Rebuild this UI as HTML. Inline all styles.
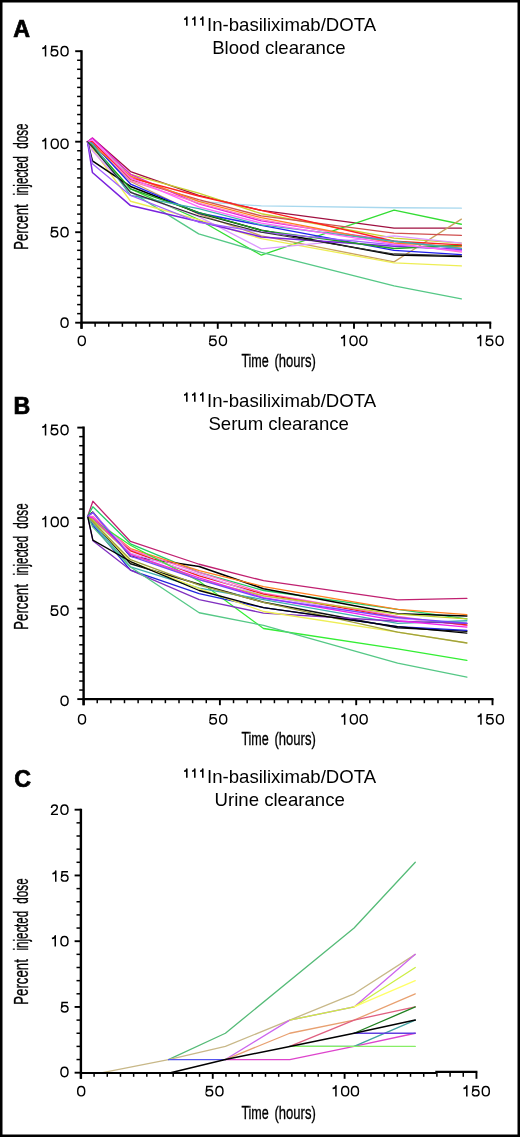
<!DOCTYPE html>
<html><head><meta charset="utf-8"><title>Clearance</title>
<style>html,body{margin:0;padding:0;background:#fff;}body{width:520px;height:1137px;position:relative;overflow:hidden;font-family:"Liberation Sans", sans-serif;}</style>
</head><body>
<svg width="520" height="1137" viewBox="0 0 520 1137" style="position:absolute;left:0;top:0;will-change:transform" font-family='"Liberation Sans", sans-serif'>
<rect x="0" y="0" width="520" height="1137" fill="#fff"/>
<polyline points="87.5,141.7 92.4,138.08 130.55,171.56 198.68,195.46 261.35,210.48 394.06,228.04 461.37,228.22" fill="none" stroke="#a01040" stroke-width="1.3" stroke-linejoin="round" stroke-linecap="round"/>
<polyline points="87.5,141.7 92.4,141.7 130.55,174.28 198.68,193.1 261.35,213.74 394.06,238.17 461.37,243.06" fill="none" stroke="#c8d030" stroke-width="1.3" stroke-linejoin="round" stroke-linecap="round"/>
<polyline points="87.5,141.7 92.4,141.7 130.55,176.09 198.68,201.43 261.35,205.95 394.06,207.76 461.37,208.13" fill="none" stroke="#a8d8ee" stroke-width="1.3" stroke-linejoin="round" stroke-linecap="round"/>
<polyline points="87.5,141.7 92.4,145.32 130.55,188.94 198.68,219.53 261.35,255.19 394.06,210.12 461.37,224.24" fill="none" stroke="#33dd33" stroke-width="1.3" stroke-linejoin="round" stroke-linecap="round"/>
<polyline points="87.5,141.7 92.4,147.13 130.55,191.66 198.68,233.83 261.35,252.29 394.06,285.96 461.37,298.81" fill="none" stroke="#55c886" stroke-width="1.3" stroke-linejoin="round" stroke-linecap="round"/>
<polyline points="87.5,141.7 92.4,143.51 130.55,181.52 198.68,214.1 261.35,235.82 394.06,261.88 461.37,219.17" fill="none" stroke="#c8a060" stroke-width="1.3" stroke-linejoin="round" stroke-linecap="round"/>
<polyline points="87.5,141.7 92.4,148.94 130.55,201.25 198.68,219.53 261.35,238.72 394.06,262.79 461.37,265.87" fill="none" stroke="#eeee55" stroke-width="1.3" stroke-linejoin="round" stroke-linecap="round"/>
<polyline points="87.5,141.7 92.4,141.7 130.55,179.71 198.68,199.62 261.35,215.91 394.06,233.1 461.37,235.46" fill="none" stroke="#d05050" stroke-width="1.3" stroke-linejoin="round" stroke-linecap="round"/>
<polyline points="87.5,141.7 92.4,150.75 130.55,192.38 198.68,216.63 261.35,248.85 394.06,235.82 461.37,243.06" fill="none" stroke="#dd99ff" stroke-width="1.3" stroke-linejoin="round" stroke-linecap="round"/>
<polyline points="87.5,141.7 92.4,160.89 130.55,186.41 198.68,213.01 261.35,230.21 394.06,255.01 461.37,256.45" fill="none" stroke="#000000" stroke-width="1.6" stroke-linejoin="round" stroke-linecap="round"/>
<polyline points="87.5,141.7 92.4,142.79 130.55,184.05 198.68,213.01 261.35,225.32 394.06,250.3 461.37,254.64" fill="none" stroke="#2020ee" stroke-width="1.3" stroke-linejoin="round" stroke-linecap="round"/>
<polyline points="87.5,141.7 92.4,172.47 130.55,205.59 198.68,221.52 261.35,236.91 394.06,246.14 461.37,249.58" fill="none" stroke="#7a22dd" stroke-width="1.5" stroke-linejoin="round" stroke-linecap="round"/>
<polyline points="87.5,141.7 92.4,138.08 130.55,174.28 198.68,203.78 261.35,220.98 394.06,241.25 461.37,248.49" fill="none" stroke="#e020e0" stroke-width="1.3" stroke-linejoin="round" stroke-linecap="round"/>
<polyline points="87.5,141.7 92.4,141.7 130.55,180.98 198.68,203.24 261.35,219.53 394.06,243.06 461.37,252.11" fill="none" stroke="#ff80c0" stroke-width="1.3" stroke-linejoin="round" stroke-linecap="round"/>
<polyline points="87.5,141.7 92.4,144.96 130.55,176.09 198.68,201.43 261.35,217.72 394.06,243.06 461.37,246.68" fill="none" stroke="#ff8020" stroke-width="1.3" stroke-linejoin="round" stroke-linecap="round"/>
<polyline points="87.5,141.7 92.4,146.04 130.55,188.94 198.68,212.29 261.35,230.39 394.06,248.49 461.37,245.41" fill="none" stroke="#20a020" stroke-width="1.3" stroke-linejoin="round" stroke-linecap="round"/>
<polyline points="87.5,141.7 92.4,141.7 130.55,177.9 198.68,196 261.35,210.48 394.06,241.25 461.37,244.87" fill="none" stroke="#ff2020" stroke-width="1.3" stroke-linejoin="round" stroke-linecap="round"/>
<polyline points="87.5,141.7 92.4,143.51 130.55,195.46 198.68,208.67 261.35,224.96 394.06,241.25 461.37,248.49" fill="none" stroke="#40b0b0" stroke-width="1.3" stroke-linejoin="round" stroke-linecap="round"/>
<polyline points="87.5,141.7 92.4,163.78 130.55,195.46 198.68,222.25 261.35,232.2 394.06,244.87 461.37,250.3" fill="none" stroke="#a060ff" stroke-width="1.3" stroke-linejoin="round" stroke-linecap="round"/>
<polyline points="87.5,141.7 92.4,139.89 130.55,177.9 198.68,206.86 261.35,223.15 394.06,244.15 461.37,251.2" fill="none" stroke="#ff66ff" stroke-width="1.3" stroke-linejoin="round" stroke-linecap="round"/>
<polyline points="87.5,141.7 92.4,147.13 130.55,192.38 198.68,215.91 261.35,232.2 394.06,253.92 461.37,255.73" fill="none" stroke="#303030" stroke-width="1.1" stroke-linejoin="round" stroke-linecap="round"/>
<polyline points="87.69,516.29 92.87,501.27 130.49,541.45 199.18,564.25 263.52,580.73 397.64,599.91 466.88,598.46" fill="none" stroke="#c02070" stroke-width="1.3" stroke-linejoin="round" stroke-linecap="round"/>
<polyline points="87.69,516.29 92.87,506.7 130.49,543.8 199.18,572.4 263.52,590.5 397.64,609.32 466.88,618.92" fill="none" stroke="#22cc66" stroke-width="1.3" stroke-linejoin="round" stroke-linecap="round"/>
<polyline points="87.69,516.29 92.87,512.13 130.49,556.29 199.18,566.43 263.52,588.69 397.64,613.67 466.88,616.02" fill="none" stroke="#000000" stroke-width="1.5" stroke-linejoin="round" stroke-linecap="round"/>
<polyline points="87.69,516.29 92.87,518.1 130.49,548.51 199.18,570.59 263.52,586.52 397.64,609.32 466.88,614.57" fill="none" stroke="#ff8020" stroke-width="1.3" stroke-linejoin="round" stroke-linecap="round"/>
<polyline points="87.69,516.29 92.87,516.29 130.49,549.77 199.18,572.4 263.52,593.03 397.64,616.38 466.88,625.61" fill="none" stroke="#ff66cc" stroke-width="1.3" stroke-linejoin="round" stroke-linecap="round"/>
<polyline points="87.69,516.29 92.87,519.91 130.49,550.86 199.18,575.84 263.52,594.12 397.64,617.65 466.88,624.89" fill="none" stroke="#ee2020" stroke-width="1.3" stroke-linejoin="round" stroke-linecap="round"/>
<polyline points="87.69,516.29 92.87,512.67 130.49,553.03 199.18,574.21 263.52,595.93 397.64,618.56 466.88,623.44" fill="none" stroke="#dd99ff" stroke-width="1.3" stroke-linejoin="round" stroke-linecap="round"/>
<polyline points="87.69,516.29 92.87,519.91 130.49,545.25 199.18,581.27 263.52,628.51 397.64,648.96 466.88,660.37" fill="none" stroke="#33ee33" stroke-width="1.3" stroke-linejoin="round" stroke-linecap="round"/>
<polyline points="87.69,516.29 92.87,521.72 130.49,563.71 199.18,584.16 263.52,602.26 397.64,627.79 466.88,631.23" fill="none" stroke="#111111" stroke-width="1.5" stroke-linejoin="round" stroke-linecap="round"/>
<polyline points="87.69,516.29 92.87,523.53 130.49,566.97 199.18,588.15 263.52,599.55 397.64,623.44 466.88,620.73" fill="none" stroke="#40b0b0" stroke-width="1.3" stroke-linejoin="round" stroke-linecap="round"/>
<polyline points="87.69,516.29 92.87,525.34 130.49,570.05 199.18,593.58 263.52,607.7 397.64,626.7 466.88,630.32" fill="none" stroke="#2222dd" stroke-width="1.3" stroke-linejoin="round" stroke-linecap="round"/>
<polyline points="87.69,516.29 92.87,540.73 130.49,570.05 199.18,599.55 263.52,613.12 397.64,621.27 466.88,623.44" fill="none" stroke="#8030c0" stroke-width="1.3" stroke-linejoin="round" stroke-linecap="round"/>
<polyline points="87.69,516.29 92.87,527.15 130.49,566.97 199.18,612.76 263.52,625.43 397.64,663.08 466.88,677.02" fill="none" stroke="#55c886" stroke-width="1.3" stroke-linejoin="round" stroke-linecap="round"/>
<polyline points="87.69,516.29 92.87,521.72 130.49,561.54 199.18,588.69 263.52,611.5 397.64,632.13 466.88,642.81" fill="none" stroke="#eeee55" stroke-width="1.3" stroke-linejoin="round" stroke-linecap="round"/>
<polyline points="87.69,516.29 92.87,519.91 130.49,554.3 199.18,579.64 263.52,595.93 397.64,614.03 466.88,618.92" fill="none" stroke="#c0d030" stroke-width="1.3" stroke-linejoin="round" stroke-linecap="round"/>
<polyline points="87.69,516.29 92.87,518.1 130.49,554.3 199.18,577.83 263.52,597.74 397.64,620.73 466.88,627.06" fill="none" stroke="#ee22ee" stroke-width="1.3" stroke-linejoin="round" stroke-linecap="round"/>
<polyline points="87.69,516.29 92.87,521.72 130.49,559.73 199.18,585.07 263.52,602.26 397.64,632.13 466.88,642.99" fill="none" stroke="#a0a040" stroke-width="1.3" stroke-linejoin="round" stroke-linecap="round"/>
<polyline points="87.69,516.29 92.87,540.18 130.49,561.54 199.18,590.5 263.52,607.7 397.64,626.7 466.88,633.04" fill="none" stroke="#000000" stroke-width="1.3" stroke-linejoin="round" stroke-linecap="round"/>
<polyline points="87.69,516.29 92.87,512.67 130.49,556.11 199.18,579.64 263.52,598.46 397.64,617.65 466.88,623.08" fill="none" stroke="#7744ff" stroke-width="1.3" stroke-linejoin="round" stroke-linecap="round"/>
<polyline points="168.45,1059.55 225.41,1033.25 354.09,928.05 415.27,862.3" fill="none" stroke="#55bb77" stroke-width="1.3" stroke-linejoin="round" stroke-linecap="round"/>
<polyline points="102.52,1072.7 168.45,1059.55 225.41,1046.4 289.75,1020.1 354.09,993.8 415.27,954.35" fill="none" stroke="#c8b888" stroke-width="1.3" stroke-linejoin="round" stroke-linecap="round"/>
<polyline points="225.41,1059.55 289.75,1020.1 354.09,1006.95 415.27,954.35" fill="none" stroke="#cc66ee" stroke-width="1.3" stroke-linejoin="round" stroke-linecap="round"/>
<polyline points="289.75,1020.1 354.09,1006.95 415.27,967.5" fill="none" stroke="#ccee44" stroke-width="1.3" stroke-linejoin="round" stroke-linecap="round"/>
<polyline points="354.09,1006.95 415.27,980.65" fill="none" stroke="#ffff66" stroke-width="1.3" stroke-linejoin="round" stroke-linecap="round"/>
<polyline points="225.41,1059.55 289.75,1033.25 354.09,1020.1 415.27,993.8" fill="none" stroke="#e8a070" stroke-width="1.3" stroke-linejoin="round" stroke-linecap="round"/>
<polyline points="168.45,1059.55 225.41,1059.55" fill="none" stroke="#5555ee" stroke-width="1.3" stroke-linejoin="round" stroke-linecap="round"/>
<polyline points="225.41,1059.55 289.75,1059.55 354.09,1046.4 415.27,1033.25" fill="none" stroke="#dd44cc" stroke-width="1.3" stroke-linejoin="round" stroke-linecap="round"/>
<polyline points="289.75,1046.4 354.09,1020.1 415.27,1006.95" fill="none" stroke="#e06080" stroke-width="1.3" stroke-linejoin="round" stroke-linecap="round"/>
<polyline points="354.09,1033.25 415.27,1006.95" fill="none" stroke="#208020" stroke-width="1.3" stroke-linejoin="round" stroke-linecap="round"/>
<polyline points="289.75,1046.4 354.09,1046.4 415.27,1020.1" fill="none" stroke="#40a0a0" stroke-width="1.3" stroke-linejoin="round" stroke-linecap="round"/>
<polyline points="289.75,1046.4 354.09,1046.4 415.27,1046.4" fill="none" stroke="#88ee66" stroke-width="1.3" stroke-linejoin="round" stroke-linecap="round"/>
<polyline points="354.09,1033.25 415.27,1033.25" fill="none" stroke="#6040e0" stroke-width="1.3" stroke-linejoin="round" stroke-linecap="round"/>
<polyline points="170.56,1072.7 225.41,1059.55 289.75,1046.4 354.09,1033.25 415.27,1020.1" fill="none" stroke="#000000" stroke-width="1.5" stroke-linejoin="round" stroke-linecap="round"/>
<line x1="81.5" y1="50.2" x2="81.5" y2="328.8" stroke="#000" stroke-width="2.4"/>
<line x1="80.5" y1="322.7" x2="491.25" y2="322.7" stroke="#000" stroke-width="2.2"/>
<line x1="75.2" y1="322.7" x2="81.5" y2="322.7" stroke="#000" stroke-width="1.9"/>
<line x1="77.1" y1="313.65" x2="81.5" y2="313.65" stroke="#000" stroke-width="1.5"/>
<line x1="77.1" y1="304.6" x2="81.5" y2="304.6" stroke="#000" stroke-width="1.5"/>
<line x1="77.1" y1="295.55" x2="81.5" y2="295.55" stroke="#000" stroke-width="1.5"/>
<line x1="77.1" y1="286.5" x2="81.5" y2="286.5" stroke="#000" stroke-width="1.5"/>
<line x1="77.1" y1="277.45" x2="81.5" y2="277.45" stroke="#000" stroke-width="1.5"/>
<line x1="77.1" y1="268.4" x2="81.5" y2="268.4" stroke="#000" stroke-width="1.5"/>
<line x1="77.1" y1="259.35" x2="81.5" y2="259.35" stroke="#000" stroke-width="1.5"/>
<line x1="77.1" y1="250.3" x2="81.5" y2="250.3" stroke="#000" stroke-width="1.5"/>
<line x1="77.1" y1="241.25" x2="81.5" y2="241.25" stroke="#000" stroke-width="1.5"/>
<line x1="75.2" y1="232.2" x2="81.5" y2="232.2" stroke="#000" stroke-width="1.9"/>
<line x1="77.1" y1="223.15" x2="81.5" y2="223.15" stroke="#000" stroke-width="1.5"/>
<line x1="77.1" y1="214.1" x2="81.5" y2="214.1" stroke="#000" stroke-width="1.5"/>
<line x1="77.1" y1="205.05" x2="81.5" y2="205.05" stroke="#000" stroke-width="1.5"/>
<line x1="77.1" y1="196" x2="81.5" y2="196" stroke="#000" stroke-width="1.5"/>
<line x1="77.1" y1="186.95" x2="81.5" y2="186.95" stroke="#000" stroke-width="1.5"/>
<line x1="77.1" y1="177.9" x2="81.5" y2="177.9" stroke="#000" stroke-width="1.5"/>
<line x1="77.1" y1="168.85" x2="81.5" y2="168.85" stroke="#000" stroke-width="1.5"/>
<line x1="77.1" y1="159.8" x2="81.5" y2="159.8" stroke="#000" stroke-width="1.5"/>
<line x1="77.1" y1="150.75" x2="81.5" y2="150.75" stroke="#000" stroke-width="1.5"/>
<line x1="75.2" y1="141.7" x2="81.5" y2="141.7" stroke="#000" stroke-width="1.9"/>
<line x1="77.1" y1="132.65" x2="81.5" y2="132.65" stroke="#000" stroke-width="1.5"/>
<line x1="77.1" y1="123.6" x2="81.5" y2="123.6" stroke="#000" stroke-width="1.5"/>
<line x1="77.1" y1="114.55" x2="81.5" y2="114.55" stroke="#000" stroke-width="1.5"/>
<line x1="77.1" y1="105.5" x2="81.5" y2="105.5" stroke="#000" stroke-width="1.5"/>
<line x1="77.1" y1="96.45" x2="81.5" y2="96.45" stroke="#000" stroke-width="1.5"/>
<line x1="77.1" y1="87.4" x2="81.5" y2="87.4" stroke="#000" stroke-width="1.5"/>
<line x1="77.1" y1="78.35" x2="81.5" y2="78.35" stroke="#000" stroke-width="1.5"/>
<line x1="77.1" y1="69.3" x2="81.5" y2="69.3" stroke="#000" stroke-width="1.5"/>
<line x1="77.1" y1="60.25" x2="81.5" y2="60.25" stroke="#000" stroke-width="1.5"/>
<line x1="75.2" y1="51.2" x2="81.5" y2="51.2" stroke="#000" stroke-width="1.9"/>
<line x1="81.5" y1="322.7" x2="81.5" y2="328.8" stroke="#000" stroke-width="1.9"/>
<line x1="95.12" y1="322.7" x2="95.12" y2="326.8" stroke="#000" stroke-width="1.5"/>
<line x1="108.75" y1="322.7" x2="108.75" y2="326.8" stroke="#000" stroke-width="1.5"/>
<line x1="122.38" y1="322.7" x2="122.38" y2="326.8" stroke="#000" stroke-width="1.5"/>
<line x1="136" y1="322.7" x2="136" y2="326.8" stroke="#000" stroke-width="1.5"/>
<line x1="149.62" y1="322.7" x2="149.62" y2="326.8" stroke="#000" stroke-width="1.5"/>
<line x1="163.25" y1="322.7" x2="163.25" y2="326.8" stroke="#000" stroke-width="1.5"/>
<line x1="176.88" y1="322.7" x2="176.88" y2="326.8" stroke="#000" stroke-width="1.5"/>
<line x1="190.5" y1="322.7" x2="190.5" y2="326.8" stroke="#000" stroke-width="1.5"/>
<line x1="204.12" y1="322.7" x2="204.12" y2="326.8" stroke="#000" stroke-width="1.5"/>
<line x1="217.75" y1="322.7" x2="217.75" y2="328.8" stroke="#000" stroke-width="1.9"/>
<line x1="231.38" y1="322.7" x2="231.38" y2="326.8" stroke="#000" stroke-width="1.5"/>
<line x1="245" y1="322.7" x2="245" y2="326.8" stroke="#000" stroke-width="1.5"/>
<line x1="258.62" y1="322.7" x2="258.62" y2="326.8" stroke="#000" stroke-width="1.5"/>
<line x1="272.25" y1="322.7" x2="272.25" y2="326.8" stroke="#000" stroke-width="1.5"/>
<line x1="285.88" y1="322.7" x2="285.88" y2="326.8" stroke="#000" stroke-width="1.5"/>
<line x1="299.5" y1="322.7" x2="299.5" y2="326.8" stroke="#000" stroke-width="1.5"/>
<line x1="313.12" y1="322.7" x2="313.12" y2="326.8" stroke="#000" stroke-width="1.5"/>
<line x1="326.75" y1="322.7" x2="326.75" y2="326.8" stroke="#000" stroke-width="1.5"/>
<line x1="340.38" y1="322.7" x2="340.38" y2="326.8" stroke="#000" stroke-width="1.5"/>
<line x1="354" y1="322.7" x2="354" y2="328.8" stroke="#000" stroke-width="1.9"/>
<line x1="367.62" y1="322.7" x2="367.62" y2="326.8" stroke="#000" stroke-width="1.5"/>
<line x1="381.25" y1="322.7" x2="381.25" y2="326.8" stroke="#000" stroke-width="1.5"/>
<line x1="394.88" y1="322.7" x2="394.88" y2="326.8" stroke="#000" stroke-width="1.5"/>
<line x1="408.5" y1="322.7" x2="408.5" y2="326.8" stroke="#000" stroke-width="1.5"/>
<line x1="422.12" y1="322.7" x2="422.12" y2="326.8" stroke="#000" stroke-width="1.5"/>
<line x1="435.75" y1="322.7" x2="435.75" y2="326.8" stroke="#000" stroke-width="1.5"/>
<line x1="449.38" y1="322.7" x2="449.38" y2="326.8" stroke="#000" stroke-width="1.5"/>
<line x1="463" y1="322.7" x2="463" y2="326.8" stroke="#000" stroke-width="1.5"/>
<line x1="476.62" y1="322.7" x2="476.62" y2="326.8" stroke="#000" stroke-width="1.5"/>
<line x1="490.25" y1="322.7" x2="490.25" y2="328.8" stroke="#000" stroke-width="1.9"/>
<line x1="83.6" y1="426.6" x2="83.6" y2="705.2" stroke="#000" stroke-width="2.4"/>
<line x1="82.6" y1="699.1" x2="493.5" y2="699.1" stroke="#000" stroke-width="2.2"/>
<line x1="77.3" y1="699.1" x2="83.6" y2="699.1" stroke="#000" stroke-width="1.9"/>
<line x1="79.2" y1="690.05" x2="83.6" y2="690.05" stroke="#000" stroke-width="1.5"/>
<line x1="79.2" y1="681" x2="83.6" y2="681" stroke="#000" stroke-width="1.5"/>
<line x1="79.2" y1="671.95" x2="83.6" y2="671.95" stroke="#000" stroke-width="1.5"/>
<line x1="79.2" y1="662.9" x2="83.6" y2="662.9" stroke="#000" stroke-width="1.5"/>
<line x1="79.2" y1="653.85" x2="83.6" y2="653.85" stroke="#000" stroke-width="1.5"/>
<line x1="79.2" y1="644.8" x2="83.6" y2="644.8" stroke="#000" stroke-width="1.5"/>
<line x1="79.2" y1="635.75" x2="83.6" y2="635.75" stroke="#000" stroke-width="1.5"/>
<line x1="79.2" y1="626.7" x2="83.6" y2="626.7" stroke="#000" stroke-width="1.5"/>
<line x1="79.2" y1="617.65" x2="83.6" y2="617.65" stroke="#000" stroke-width="1.5"/>
<line x1="77.3" y1="608.6" x2="83.6" y2="608.6" stroke="#000" stroke-width="1.9"/>
<line x1="79.2" y1="599.55" x2="83.6" y2="599.55" stroke="#000" stroke-width="1.5"/>
<line x1="79.2" y1="590.5" x2="83.6" y2="590.5" stroke="#000" stroke-width="1.5"/>
<line x1="79.2" y1="581.45" x2="83.6" y2="581.45" stroke="#000" stroke-width="1.5"/>
<line x1="79.2" y1="572.4" x2="83.6" y2="572.4" stroke="#000" stroke-width="1.5"/>
<line x1="79.2" y1="563.35" x2="83.6" y2="563.35" stroke="#000" stroke-width="1.5"/>
<line x1="79.2" y1="554.3" x2="83.6" y2="554.3" stroke="#000" stroke-width="1.5"/>
<line x1="79.2" y1="545.25" x2="83.6" y2="545.25" stroke="#000" stroke-width="1.5"/>
<line x1="79.2" y1="536.2" x2="83.6" y2="536.2" stroke="#000" stroke-width="1.5"/>
<line x1="79.2" y1="527.15" x2="83.6" y2="527.15" stroke="#000" stroke-width="1.5"/>
<line x1="77.3" y1="518.1" x2="83.6" y2="518.1" stroke="#000" stroke-width="1.9"/>
<line x1="79.2" y1="509.05" x2="83.6" y2="509.05" stroke="#000" stroke-width="1.5"/>
<line x1="79.2" y1="500" x2="83.6" y2="500" stroke="#000" stroke-width="1.5"/>
<line x1="79.2" y1="490.95" x2="83.6" y2="490.95" stroke="#000" stroke-width="1.5"/>
<line x1="79.2" y1="481.9" x2="83.6" y2="481.9" stroke="#000" stroke-width="1.5"/>
<line x1="79.2" y1="472.85" x2="83.6" y2="472.85" stroke="#000" stroke-width="1.5"/>
<line x1="79.2" y1="463.8" x2="83.6" y2="463.8" stroke="#000" stroke-width="1.5"/>
<line x1="79.2" y1="454.75" x2="83.6" y2="454.75" stroke="#000" stroke-width="1.5"/>
<line x1="79.2" y1="445.7" x2="83.6" y2="445.7" stroke="#000" stroke-width="1.5"/>
<line x1="79.2" y1="436.65" x2="83.6" y2="436.65" stroke="#000" stroke-width="1.5"/>
<line x1="77.3" y1="427.6" x2="83.6" y2="427.6" stroke="#000" stroke-width="1.9"/>
<line x1="83.6" y1="699.1" x2="83.6" y2="705.2" stroke="#000" stroke-width="1.9"/>
<line x1="97.23" y1="699.1" x2="97.23" y2="703.2" stroke="#000" stroke-width="1.5"/>
<line x1="110.86" y1="699.1" x2="110.86" y2="703.2" stroke="#000" stroke-width="1.5"/>
<line x1="124.49" y1="699.1" x2="124.49" y2="703.2" stroke="#000" stroke-width="1.5"/>
<line x1="138.12" y1="699.1" x2="138.12" y2="703.2" stroke="#000" stroke-width="1.5"/>
<line x1="151.75" y1="699.1" x2="151.75" y2="703.2" stroke="#000" stroke-width="1.5"/>
<line x1="165.38" y1="699.1" x2="165.38" y2="703.2" stroke="#000" stroke-width="1.5"/>
<line x1="179.01" y1="699.1" x2="179.01" y2="703.2" stroke="#000" stroke-width="1.5"/>
<line x1="192.64" y1="699.1" x2="192.64" y2="703.2" stroke="#000" stroke-width="1.5"/>
<line x1="206.27" y1="699.1" x2="206.27" y2="703.2" stroke="#000" stroke-width="1.5"/>
<line x1="219.9" y1="699.1" x2="219.9" y2="705.2" stroke="#000" stroke-width="1.9"/>
<line x1="233.53" y1="699.1" x2="233.53" y2="703.2" stroke="#000" stroke-width="1.5"/>
<line x1="247.16" y1="699.1" x2="247.16" y2="703.2" stroke="#000" stroke-width="1.5"/>
<line x1="260.79" y1="699.1" x2="260.79" y2="703.2" stroke="#000" stroke-width="1.5"/>
<line x1="274.42" y1="699.1" x2="274.42" y2="703.2" stroke="#000" stroke-width="1.5"/>
<line x1="288.05" y1="699.1" x2="288.05" y2="703.2" stroke="#000" stroke-width="1.5"/>
<line x1="301.68" y1="699.1" x2="301.68" y2="703.2" stroke="#000" stroke-width="1.5"/>
<line x1="315.31" y1="699.1" x2="315.31" y2="703.2" stroke="#000" stroke-width="1.5"/>
<line x1="328.94" y1="699.1" x2="328.94" y2="703.2" stroke="#000" stroke-width="1.5"/>
<line x1="342.57" y1="699.1" x2="342.57" y2="703.2" stroke="#000" stroke-width="1.5"/>
<line x1="356.2" y1="699.1" x2="356.2" y2="705.2" stroke="#000" stroke-width="1.9"/>
<line x1="369.83" y1="699.1" x2="369.83" y2="703.2" stroke="#000" stroke-width="1.5"/>
<line x1="383.46" y1="699.1" x2="383.46" y2="703.2" stroke="#000" stroke-width="1.5"/>
<line x1="397.09" y1="699.1" x2="397.09" y2="703.2" stroke="#000" stroke-width="1.5"/>
<line x1="410.72" y1="699.1" x2="410.72" y2="703.2" stroke="#000" stroke-width="1.5"/>
<line x1="424.35" y1="699.1" x2="424.35" y2="703.2" stroke="#000" stroke-width="1.5"/>
<line x1="437.98" y1="699.1" x2="437.98" y2="703.2" stroke="#000" stroke-width="1.5"/>
<line x1="451.61" y1="699.1" x2="451.61" y2="703.2" stroke="#000" stroke-width="1.5"/>
<line x1="465.24" y1="699.1" x2="465.24" y2="703.2" stroke="#000" stroke-width="1.5"/>
<line x1="478.87" y1="699.1" x2="478.87" y2="703.2" stroke="#000" stroke-width="1.5"/>
<line x1="492.5" y1="699.1" x2="492.5" y2="705.2" stroke="#000" stroke-width="1.9"/>
<line x1="80.9" y1="808.7" x2="80.9" y2="1078.8" stroke="#000" stroke-width="2.4"/>
<line x1="79.9" y1="1073" x2="436.3" y2="1073" stroke="#000" stroke-width="2.2"/>
<line x1="435.3" y1="1071.9" x2="477.45" y2="1071.9" stroke="#000" stroke-width="2.2"/>
<line x1="74.6" y1="1072.7" x2="80.9" y2="1072.7" stroke="#000" stroke-width="1.9"/>
<line x1="76.5" y1="1059.55" x2="80.9" y2="1059.55" stroke="#000" stroke-width="1.5"/>
<line x1="76.5" y1="1046.4" x2="80.9" y2="1046.4" stroke="#000" stroke-width="1.5"/>
<line x1="76.5" y1="1033.25" x2="80.9" y2="1033.25" stroke="#000" stroke-width="1.5"/>
<line x1="76.5" y1="1020.1" x2="80.9" y2="1020.1" stroke="#000" stroke-width="1.5"/>
<line x1="74.6" y1="1006.95" x2="80.9" y2="1006.95" stroke="#000" stroke-width="1.9"/>
<line x1="76.5" y1="993.8" x2="80.9" y2="993.8" stroke="#000" stroke-width="1.5"/>
<line x1="76.5" y1="980.65" x2="80.9" y2="980.65" stroke="#000" stroke-width="1.5"/>
<line x1="76.5" y1="967.5" x2="80.9" y2="967.5" stroke="#000" stroke-width="1.5"/>
<line x1="76.5" y1="954.35" x2="80.9" y2="954.35" stroke="#000" stroke-width="1.5"/>
<line x1="74.6" y1="941.2" x2="80.9" y2="941.2" stroke="#000" stroke-width="1.9"/>
<line x1="76.5" y1="928.05" x2="80.9" y2="928.05" stroke="#000" stroke-width="1.5"/>
<line x1="76.5" y1="914.9" x2="80.9" y2="914.9" stroke="#000" stroke-width="1.5"/>
<line x1="76.5" y1="901.75" x2="80.9" y2="901.75" stroke="#000" stroke-width="1.5"/>
<line x1="76.5" y1="888.6" x2="80.9" y2="888.6" stroke="#000" stroke-width="1.5"/>
<line x1="74.6" y1="875.45" x2="80.9" y2="875.45" stroke="#000" stroke-width="1.9"/>
<line x1="76.5" y1="862.3" x2="80.9" y2="862.3" stroke="#000" stroke-width="1.5"/>
<line x1="76.5" y1="849.15" x2="80.9" y2="849.15" stroke="#000" stroke-width="1.5"/>
<line x1="76.5" y1="836" x2="80.9" y2="836" stroke="#000" stroke-width="1.5"/>
<line x1="76.5" y1="822.85" x2="80.9" y2="822.85" stroke="#000" stroke-width="1.5"/>
<line x1="74.6" y1="809.7" x2="80.9" y2="809.7" stroke="#000" stroke-width="1.9"/>
<line x1="80.9" y1="1072.7" x2="80.9" y2="1078.8" stroke="#000" stroke-width="1.9"/>
<line x1="94.09" y1="1072.7" x2="94.09" y2="1076.8" stroke="#000" stroke-width="1.5"/>
<line x1="107.27" y1="1072.7" x2="107.27" y2="1076.8" stroke="#000" stroke-width="1.5"/>
<line x1="120.46" y1="1072.7" x2="120.46" y2="1076.8" stroke="#000" stroke-width="1.5"/>
<line x1="133.64" y1="1072.7" x2="133.64" y2="1076.8" stroke="#000" stroke-width="1.5"/>
<line x1="146.82" y1="1072.7" x2="146.82" y2="1076.8" stroke="#000" stroke-width="1.5"/>
<line x1="160.01" y1="1072.7" x2="160.01" y2="1076.8" stroke="#000" stroke-width="1.5"/>
<line x1="173.19" y1="1072.7" x2="173.19" y2="1076.8" stroke="#000" stroke-width="1.5"/>
<line x1="186.38" y1="1072.7" x2="186.38" y2="1076.8" stroke="#000" stroke-width="1.5"/>
<line x1="199.56" y1="1072.7" x2="199.56" y2="1076.8" stroke="#000" stroke-width="1.5"/>
<line x1="212.75" y1="1072.7" x2="212.75" y2="1078.8" stroke="#000" stroke-width="1.9"/>
<line x1="225.94" y1="1072.7" x2="225.94" y2="1076.8" stroke="#000" stroke-width="1.5"/>
<line x1="239.12" y1="1072.7" x2="239.12" y2="1076.8" stroke="#000" stroke-width="1.5"/>
<line x1="252.31" y1="1072.7" x2="252.31" y2="1076.8" stroke="#000" stroke-width="1.5"/>
<line x1="265.49" y1="1072.7" x2="265.49" y2="1076.8" stroke="#000" stroke-width="1.5"/>
<line x1="278.68" y1="1072.7" x2="278.68" y2="1076.8" stroke="#000" stroke-width="1.5"/>
<line x1="291.86" y1="1072.7" x2="291.86" y2="1076.8" stroke="#000" stroke-width="1.5"/>
<line x1="305.05" y1="1072.7" x2="305.05" y2="1076.8" stroke="#000" stroke-width="1.5"/>
<line x1="318.23" y1="1072.7" x2="318.23" y2="1076.8" stroke="#000" stroke-width="1.5"/>
<line x1="331.42" y1="1072.7" x2="331.42" y2="1076.8" stroke="#000" stroke-width="1.5"/>
<line x1="344.6" y1="1072.7" x2="344.6" y2="1078.8" stroke="#000" stroke-width="1.9"/>
<line x1="357.78" y1="1072.7" x2="357.78" y2="1076.8" stroke="#000" stroke-width="1.5"/>
<line x1="370.97" y1="1072.7" x2="370.97" y2="1076.8" stroke="#000" stroke-width="1.5"/>
<line x1="384.15" y1="1072.7" x2="384.15" y2="1076.8" stroke="#000" stroke-width="1.5"/>
<line x1="397.34" y1="1072.7" x2="397.34" y2="1076.8" stroke="#000" stroke-width="1.5"/>
<line x1="410.52" y1="1072.7" x2="410.52" y2="1076.8" stroke="#000" stroke-width="1.5"/>
<line x1="423.71" y1="1072.7" x2="423.71" y2="1076.8" stroke="#000" stroke-width="1.5"/>
<line x1="436.89" y1="1072.7" x2="436.89" y2="1076.8" stroke="#000" stroke-width="1.5"/>
<line x1="450.08" y1="1072.7" x2="450.08" y2="1076.8" stroke="#000" stroke-width="1.5"/>
<line x1="463.26" y1="1072.7" x2="463.26" y2="1076.8" stroke="#000" stroke-width="1.5"/>
<line x1="476.45" y1="1072.7" x2="476.45" y2="1078.8" stroke="#000" stroke-width="1.9"/>
<path transform="translate(59.95,328.1) scale(1)" d="M4.6,-10.08 C2.4,-10.08 1.08,-8.2 1.08,-5.4 C1.08,-2.6 2.4,-0.72 4.6,-0.72 C6.8,-0.72 8.12,-2.6 8.12,-5.4 C8.12,-8.2 6.8,-10.08 4.6,-10.08 Z" fill="none" stroke="#000" stroke-width="1.45"/>
<path transform="translate(50.15,237.6) scale(1)" d="M7.6,-10.08 L1.75,-10.08 L1.3,-5.3 C2.0,-6.3 3.2,-6.9 4.4,-6.9 C6.4,-6.9 7.63,-5.5 7.63,-3.6 C7.63,-1.8 6.3,-0.72 4.2,-0.72 C2.5,-0.72 1.2,-1.6 0.95,-3.0" fill="none" stroke="#000" stroke-width="1.45"/>
<path transform="translate(59.95,237.6) scale(1)" d="M4.6,-10.08 C2.4,-10.08 1.08,-8.2 1.08,-5.4 C1.08,-2.6 2.4,-0.72 4.6,-0.72 C6.8,-0.72 8.12,-2.6 8.12,-5.4 C8.12,-8.2 6.8,-10.08 4.6,-10.08 Z" fill="none" stroke="#000" stroke-width="1.45"/>
<path transform="translate(40.35,149.2) scale(1)" d="M1.85,-8.1 C3.7,-8.4 5.0,-9.1 5.2,-10.8 L5.2,0" fill="none" stroke="#000" stroke-width="1.5" stroke-linejoin="round"/>
<path transform="translate(50.15,149.2) scale(1)" d="M4.6,-10.08 C2.4,-10.08 1.08,-8.2 1.08,-5.4 C1.08,-2.6 2.4,-0.72 4.6,-0.72 C6.8,-0.72 8.12,-2.6 8.12,-5.4 C8.12,-8.2 6.8,-10.08 4.6,-10.08 Z" fill="none" stroke="#000" stroke-width="1.45"/>
<path transform="translate(59.95,149.2) scale(1)" d="M4.6,-10.08 C2.4,-10.08 1.08,-8.2 1.08,-5.4 C1.08,-2.6 2.4,-0.72 4.6,-0.72 C6.8,-0.72 8.12,-2.6 8.12,-5.4 C8.12,-8.2 6.8,-10.08 4.6,-10.08 Z" fill="none" stroke="#000" stroke-width="1.45"/>
<path transform="translate(40.35,56.6) scale(1)" d="M1.85,-8.1 C3.7,-8.4 5.0,-9.1 5.2,-10.8 L5.2,0" fill="none" stroke="#000" stroke-width="1.5" stroke-linejoin="round"/>
<path transform="translate(50.15,56.6) scale(1)" d="M7.6,-10.08 L1.75,-10.08 L1.3,-5.3 C2.0,-6.3 3.2,-6.9 4.4,-6.9 C6.4,-6.9 7.63,-5.5 7.63,-3.6 C7.63,-1.8 6.3,-0.72 4.2,-0.72 C2.5,-0.72 1.2,-1.6 0.95,-3.0" fill="none" stroke="#000" stroke-width="1.45"/>
<path transform="translate(59.95,56.6) scale(1)" d="M4.6,-10.08 C2.4,-10.08 1.08,-8.2 1.08,-5.4 C1.08,-2.6 2.4,-0.72 4.6,-0.72 C6.8,-0.72 8.12,-2.6 8.12,-5.4 C8.12,-8.2 6.8,-10.08 4.6,-10.08 Z" fill="none" stroke="#000" stroke-width="1.45"/>
<path transform="translate(77.2,346.2) scale(1)" d="M4.6,-10.08 C2.4,-10.08 1.08,-8.2 1.08,-5.4 C1.08,-2.6 2.4,-0.72 4.6,-0.72 C6.8,-0.72 8.12,-2.6 8.12,-5.4 C8.12,-8.2 6.8,-10.08 4.6,-10.08 Z" fill="none" stroke="#000" stroke-width="1.45"/>
<path transform="translate(208.55,346.2) scale(1)" d="M7.6,-10.08 L1.75,-10.08 L1.3,-5.3 C2.0,-6.3 3.2,-6.9 4.4,-6.9 C6.4,-6.9 7.63,-5.5 7.63,-3.6 C7.63,-1.8 6.3,-0.72 4.2,-0.72 C2.5,-0.72 1.2,-1.6 0.95,-3.0" fill="none" stroke="#000" stroke-width="1.45"/>
<path transform="translate(218.35,346.2) scale(1)" d="M4.6,-10.08 C2.4,-10.08 1.08,-8.2 1.08,-5.4 C1.08,-2.6 2.4,-0.72 4.6,-0.72 C6.8,-0.72 8.12,-2.6 8.12,-5.4 C8.12,-8.2 6.8,-10.08 4.6,-10.08 Z" fill="none" stroke="#000" stroke-width="1.45"/>
<path transform="translate(339.15,346.2) scale(1)" d="M1.85,-8.1 C3.7,-8.4 5.0,-9.1 5.2,-10.8 L5.2,0" fill="none" stroke="#000" stroke-width="1.5" stroke-linejoin="round"/>
<path transform="translate(348.95,346.2) scale(1)" d="M4.6,-10.08 C2.4,-10.08 1.08,-8.2 1.08,-5.4 C1.08,-2.6 2.4,-0.72 4.6,-0.72 C6.8,-0.72 8.12,-2.6 8.12,-5.4 C8.12,-8.2 6.8,-10.08 4.6,-10.08 Z" fill="none" stroke="#000" stroke-width="1.45"/>
<path transform="translate(358.75,346.2) scale(1)" d="M4.6,-10.08 C2.4,-10.08 1.08,-8.2 1.08,-5.4 C1.08,-2.6 2.4,-0.72 4.6,-0.72 C6.8,-0.72 8.12,-2.6 8.12,-5.4 C8.12,-8.2 6.8,-10.08 4.6,-10.08 Z" fill="none" stroke="#000" stroke-width="1.45"/>
<path transform="translate(475.4,346.2) scale(1)" d="M1.85,-8.1 C3.7,-8.4 5.0,-9.1 5.2,-10.8 L5.2,0" fill="none" stroke="#000" stroke-width="1.5" stroke-linejoin="round"/>
<path transform="translate(485.2,346.2) scale(1)" d="M7.6,-10.08 L1.75,-10.08 L1.3,-5.3 C2.0,-6.3 3.2,-6.9 4.4,-6.9 C6.4,-6.9 7.63,-5.5 7.63,-3.6 C7.63,-1.8 6.3,-0.72 4.2,-0.72 C2.5,-0.72 1.2,-1.6 0.95,-3.0" fill="none" stroke="#000" stroke-width="1.45"/>
<path transform="translate(495,346.2) scale(1)" d="M4.6,-10.08 C2.4,-10.08 1.08,-8.2 1.08,-5.4 C1.08,-2.6 2.4,-0.72 4.6,-0.72 C6.8,-0.72 8.12,-2.6 8.12,-5.4 C8.12,-8.2 6.8,-10.08 4.6,-10.08 Z" fill="none" stroke="#000" stroke-width="1.45"/>
<path transform="translate(59.95,706.2) scale(1)" d="M4.6,-10.08 C2.4,-10.08 1.08,-8.2 1.08,-5.4 C1.08,-2.6 2.4,-0.72 4.6,-0.72 C6.8,-0.72 8.12,-2.6 8.12,-5.4 C8.12,-8.2 6.8,-10.08 4.6,-10.08 Z" fill="none" stroke="#000" stroke-width="1.45"/>
<path transform="translate(50.15,616) scale(1)" d="M7.6,-10.08 L1.75,-10.08 L1.3,-5.3 C2.0,-6.3 3.2,-6.9 4.4,-6.9 C6.4,-6.9 7.63,-5.5 7.63,-3.6 C7.63,-1.8 6.3,-0.72 4.2,-0.72 C2.5,-0.72 1.2,-1.6 0.95,-3.0" fill="none" stroke="#000" stroke-width="1.45"/>
<path transform="translate(59.95,616) scale(1)" d="M4.6,-10.08 C2.4,-10.08 1.08,-8.2 1.08,-5.4 C1.08,-2.6 2.4,-0.72 4.6,-0.72 C6.8,-0.72 8.12,-2.6 8.12,-5.4 C8.12,-8.2 6.8,-10.08 4.6,-10.08 Z" fill="none" stroke="#000" stroke-width="1.45"/>
<path transform="translate(40.35,527.3) scale(1)" d="M1.85,-8.1 C3.7,-8.4 5.0,-9.1 5.2,-10.8 L5.2,0" fill="none" stroke="#000" stroke-width="1.5" stroke-linejoin="round"/>
<path transform="translate(50.15,527.3) scale(1)" d="M4.6,-10.08 C2.4,-10.08 1.08,-8.2 1.08,-5.4 C1.08,-2.6 2.4,-0.72 4.6,-0.72 C6.8,-0.72 8.12,-2.6 8.12,-5.4 C8.12,-8.2 6.8,-10.08 4.6,-10.08 Z" fill="none" stroke="#000" stroke-width="1.45"/>
<path transform="translate(59.95,527.3) scale(1)" d="M4.6,-10.08 C2.4,-10.08 1.08,-8.2 1.08,-5.4 C1.08,-2.6 2.4,-0.72 4.6,-0.72 C6.8,-0.72 8.12,-2.6 8.12,-5.4 C8.12,-8.2 6.8,-10.08 4.6,-10.08 Z" fill="none" stroke="#000" stroke-width="1.45"/>
<path transform="translate(40.35,435.4) scale(1)" d="M1.85,-8.1 C3.7,-8.4 5.0,-9.1 5.2,-10.8 L5.2,0" fill="none" stroke="#000" stroke-width="1.5" stroke-linejoin="round"/>
<path transform="translate(50.15,435.4) scale(1)" d="M7.6,-10.08 L1.75,-10.08 L1.3,-5.3 C2.0,-6.3 3.2,-6.9 4.4,-6.9 C6.4,-6.9 7.63,-5.5 7.63,-3.6 C7.63,-1.8 6.3,-0.72 4.2,-0.72 C2.5,-0.72 1.2,-1.6 0.95,-3.0" fill="none" stroke="#000" stroke-width="1.45"/>
<path transform="translate(59.95,435.4) scale(1)" d="M4.6,-10.08 C2.4,-10.08 1.08,-8.2 1.08,-5.4 C1.08,-2.6 2.4,-0.72 4.6,-0.72 C6.8,-0.72 8.12,-2.6 8.12,-5.4 C8.12,-8.2 6.8,-10.08 4.6,-10.08 Z" fill="none" stroke="#000" stroke-width="1.45"/>
<path transform="translate(77.4,724.7) scale(1)" d="M4.6,-10.08 C2.4,-10.08 1.08,-8.2 1.08,-5.4 C1.08,-2.6 2.4,-0.72 4.6,-0.72 C6.8,-0.72 8.12,-2.6 8.12,-5.4 C8.12,-8.2 6.8,-10.08 4.6,-10.08 Z" fill="none" stroke="#000" stroke-width="1.45"/>
<path transform="translate(208.8,724.7) scale(1)" d="M7.6,-10.08 L1.75,-10.08 L1.3,-5.3 C2.0,-6.3 3.2,-6.9 4.4,-6.9 C6.4,-6.9 7.63,-5.5 7.63,-3.6 C7.63,-1.8 6.3,-0.72 4.2,-0.72 C2.5,-0.72 1.2,-1.6 0.95,-3.0" fill="none" stroke="#000" stroke-width="1.45"/>
<path transform="translate(218.6,724.7) scale(1)" d="M4.6,-10.08 C2.4,-10.08 1.08,-8.2 1.08,-5.4 C1.08,-2.6 2.4,-0.72 4.6,-0.72 C6.8,-0.72 8.12,-2.6 8.12,-5.4 C8.12,-8.2 6.8,-10.08 4.6,-10.08 Z" fill="none" stroke="#000" stroke-width="1.45"/>
<path transform="translate(339.45,724.7) scale(1)" d="M1.85,-8.1 C3.7,-8.4 5.0,-9.1 5.2,-10.8 L5.2,0" fill="none" stroke="#000" stroke-width="1.5" stroke-linejoin="round"/>
<path transform="translate(349.25,724.7) scale(1)" d="M4.6,-10.08 C2.4,-10.08 1.08,-8.2 1.08,-5.4 C1.08,-2.6 2.4,-0.72 4.6,-0.72 C6.8,-0.72 8.12,-2.6 8.12,-5.4 C8.12,-8.2 6.8,-10.08 4.6,-10.08 Z" fill="none" stroke="#000" stroke-width="1.45"/>
<path transform="translate(359.05,724.7) scale(1)" d="M4.6,-10.08 C2.4,-10.08 1.08,-8.2 1.08,-5.4 C1.08,-2.6 2.4,-0.72 4.6,-0.72 C6.8,-0.72 8.12,-2.6 8.12,-5.4 C8.12,-8.2 6.8,-10.08 4.6,-10.08 Z" fill="none" stroke="#000" stroke-width="1.45"/>
<path transform="translate(475.75,724.7) scale(1)" d="M1.85,-8.1 C3.7,-8.4 5.0,-9.1 5.2,-10.8 L5.2,0" fill="none" stroke="#000" stroke-width="1.5" stroke-linejoin="round"/>
<path transform="translate(485.55,724.7) scale(1)" d="M7.6,-10.08 L1.75,-10.08 L1.3,-5.3 C2.0,-6.3 3.2,-6.9 4.4,-6.9 C6.4,-6.9 7.63,-5.5 7.63,-3.6 C7.63,-1.8 6.3,-0.72 4.2,-0.72 C2.5,-0.72 1.2,-1.6 0.95,-3.0" fill="none" stroke="#000" stroke-width="1.45"/>
<path transform="translate(495.35,724.7) scale(1)" d="M4.6,-10.08 C2.4,-10.08 1.08,-8.2 1.08,-5.4 C1.08,-2.6 2.4,-0.72 4.6,-0.72 C6.8,-0.72 8.12,-2.6 8.12,-5.4 C8.12,-8.2 6.8,-10.08 4.6,-10.08 Z" fill="none" stroke="#000" stroke-width="1.45"/>
<path transform="translate(59.85,1077.4) scale(1)" d="M4.6,-10.08 C2.4,-10.08 1.08,-8.2 1.08,-5.4 C1.08,-2.6 2.4,-0.72 4.6,-0.72 C6.8,-0.72 8.12,-2.6 8.12,-5.4 C8.12,-8.2 6.8,-10.08 4.6,-10.08 Z" fill="none" stroke="#000" stroke-width="1.45"/>
<path transform="translate(60.35,1012.65) scale(1)" d="M7.6,-10.08 L1.75,-10.08 L1.3,-5.3 C2.0,-6.3 3.2,-6.9 4.4,-6.9 C6.4,-6.9 7.63,-5.5 7.63,-3.6 C7.63,-1.8 6.3,-0.72 4.2,-0.72 C2.5,-0.72 1.2,-1.6 0.95,-3.0" fill="none" stroke="#000" stroke-width="1.45"/>
<path transform="translate(50.05,946.6) scale(1)" d="M1.85,-8.1 C3.7,-8.4 5.0,-9.1 5.2,-10.8 L5.2,0" fill="none" stroke="#000" stroke-width="1.5" stroke-linejoin="round"/>
<path transform="translate(59.85,946.6) scale(1)" d="M4.6,-10.08 C2.4,-10.08 1.08,-8.2 1.08,-5.4 C1.08,-2.6 2.4,-0.72 4.6,-0.72 C6.8,-0.72 8.12,-2.6 8.12,-5.4 C8.12,-8.2 6.8,-10.08 4.6,-10.08 Z" fill="none" stroke="#000" stroke-width="1.45"/>
<path transform="translate(50.55,881.85) scale(1)" d="M1.85,-8.1 C3.7,-8.4 5.0,-9.1 5.2,-10.8 L5.2,0" fill="none" stroke="#000" stroke-width="1.5" stroke-linejoin="round"/>
<path transform="translate(60.35,881.85) scale(1)" d="M7.6,-10.08 L1.75,-10.08 L1.3,-5.3 C2.0,-6.3 3.2,-6.9 4.4,-6.9 C6.4,-6.9 7.63,-5.5 7.63,-3.6 C7.63,-1.8 6.3,-0.72 4.2,-0.72 C2.5,-0.72 1.2,-1.6 0.95,-3.0" fill="none" stroke="#000" stroke-width="1.45"/>
<path transform="translate(50.05,815.1) scale(1)" d="M1.45,-7.0 C1.45,-9.0 2.7,-10.08 4.45,-10.08 C6.1,-10.08 7.25,-9.0 7.25,-7.55 C7.25,-5.9 6.0,-5.0 4.4,-3.95 C2.6,-2.75 1.6,-1.9 1.55,-0.72 L7.95,-0.72" fill="none" stroke="#000" stroke-width="1.45"/>
<path transform="translate(59.85,815.1) scale(1)" d="M4.6,-10.08 C2.4,-10.08 1.08,-8.2 1.08,-5.4 C1.08,-2.6 2.4,-0.72 4.6,-0.72 C6.8,-0.72 8.12,-2.6 8.12,-5.4 C8.12,-8.2 6.8,-10.08 4.6,-10.08 Z" fill="none" stroke="#000" stroke-width="1.45"/>
<path transform="translate(76.6,1096.6) scale(1)" d="M4.6,-10.08 C2.4,-10.08 1.08,-8.2 1.08,-5.4 C1.08,-2.6 2.4,-0.72 4.6,-0.72 C6.8,-0.72 8.12,-2.6 8.12,-5.4 C8.12,-8.2 6.8,-10.08 4.6,-10.08 Z" fill="none" stroke="#000" stroke-width="1.45"/>
<path transform="translate(205.05,1096.6) scale(1)" d="M7.6,-10.08 L1.75,-10.08 L1.3,-5.3 C2.0,-6.3 3.2,-6.9 4.4,-6.9 C6.4,-6.9 7.63,-5.5 7.63,-3.6 C7.63,-1.8 6.3,-0.72 4.2,-0.72 C2.5,-0.72 1.2,-1.6 0.95,-3.0" fill="none" stroke="#000" stroke-width="1.45"/>
<path transform="translate(214.85,1096.6) scale(1)" d="M4.6,-10.08 C2.4,-10.08 1.08,-8.2 1.08,-5.4 C1.08,-2.6 2.4,-0.72 4.6,-0.72 C6.8,-0.72 8.12,-2.6 8.12,-5.4 C8.12,-8.2 6.8,-10.08 4.6,-10.08 Z" fill="none" stroke="#000" stroke-width="1.45"/>
<path transform="translate(330.75,1096.6) scale(1)" d="M1.85,-8.1 C3.7,-8.4 5.0,-9.1 5.2,-10.8 L5.2,0" fill="none" stroke="#000" stroke-width="1.5" stroke-linejoin="round"/>
<path transform="translate(340.55,1096.6) scale(1)" d="M4.6,-10.08 C2.4,-10.08 1.08,-8.2 1.08,-5.4 C1.08,-2.6 2.4,-0.72 4.6,-0.72 C6.8,-0.72 8.12,-2.6 8.12,-5.4 C8.12,-8.2 6.8,-10.08 4.6,-10.08 Z" fill="none" stroke="#000" stroke-width="1.45"/>
<path transform="translate(350.35,1096.6) scale(1)" d="M4.6,-10.08 C2.4,-10.08 1.08,-8.2 1.08,-5.4 C1.08,-2.6 2.4,-0.72 4.6,-0.72 C6.8,-0.72 8.12,-2.6 8.12,-5.4 C8.12,-8.2 6.8,-10.08 4.6,-10.08 Z" fill="none" stroke="#000" stroke-width="1.45"/>
<path transform="translate(461.6,1096.6) scale(1)" d="M1.85,-8.1 C3.7,-8.4 5.0,-9.1 5.2,-10.8 L5.2,0" fill="none" stroke="#000" stroke-width="1.5" stroke-linejoin="round"/>
<path transform="translate(471.4,1096.6) scale(1)" d="M7.6,-10.08 L1.75,-10.08 L1.3,-5.3 C2.0,-6.3 3.2,-6.9 4.4,-6.9 C6.4,-6.9 7.63,-5.5 7.63,-3.6 C7.63,-1.8 6.3,-0.72 4.2,-0.72 C2.5,-0.72 1.2,-1.6 0.95,-3.0" fill="none" stroke="#000" stroke-width="1.45"/>
<path transform="translate(481.2,1096.6) scale(1)" d="M4.6,-10.08 C2.4,-10.08 1.08,-8.2 1.08,-5.4 C1.08,-2.6 2.4,-0.72 4.6,-0.72 C6.8,-0.72 8.12,-2.6 8.12,-5.4 C8.12,-8.2 6.8,-10.08 4.6,-10.08 Z" fill="none" stroke="#000" stroke-width="1.45"/>
<text x="13.2" y="36.8" font-size="23.2" text-anchor="start" font-weight="bold" stroke="#000" stroke-width="0.7">A</text>
<path transform="translate(182.6,25.8) scale(0.81)" d="M1.85,-8.1 C3.7,-8.4 5.0,-9.1 5.2,-10.8 L5.2,0" fill="none" stroke="#000" stroke-width="1.95" stroke-linejoin="round"/>
<path transform="translate(190.59,25.8) scale(0.81)" d="M1.85,-8.1 C3.7,-8.4 5.0,-9.1 5.2,-10.8 L5.2,0" fill="none" stroke="#000" stroke-width="1.95" stroke-linejoin="round"/>
<path transform="translate(198.57,25.8) scale(0.81)" d="M1.85,-8.1 C3.7,-8.4 5.0,-9.1 5.2,-10.8 L5.2,0" fill="none" stroke="#000" stroke-width="1.95" stroke-linejoin="round"/>
<text x="207" y="31.3" font-size="18.6" text-anchor="start" font-weight="normal">In-basiliximab/DOTA</text>
<text x="212.2" y="54.4" font-size="18.6" text-anchor="start" font-weight="normal">Blood clearance</text>
<g transform="translate(27.5,248.8) rotate(-90)" font-size="19.5" stroke="#000" stroke-width="0.35"><text x="-1" y="0" textLength="45.5" lengthAdjust="spacingAndGlyphs">Percent</text><text x="53.2" y="0" textLength="39.6" lengthAdjust="spacingAndGlyphs">injected</text><text x="100" y="0" textLength="25.4" lengthAdjust="spacingAndGlyphs">dose</text></g>
<text x="241.4" y="366.7" font-size="18.8" textLength="27.4" lengthAdjust="spacingAndGlyphs" stroke="#000" stroke-width="0.35">Time</text>
<text x="274.5" y="366.7" font-size="18.8" textLength="41.3" lengthAdjust="spacingAndGlyphs" stroke="#000" stroke-width="0.35">(hours)</text>
<text x="13.6" y="413.7" font-size="23.2" text-anchor="start" font-weight="bold" stroke="#000" stroke-width="0.7">B</text>
<path transform="translate(182.6,401.7) scale(0.81)" d="M1.85,-8.1 C3.7,-8.4 5.0,-9.1 5.2,-10.8 L5.2,0" fill="none" stroke="#000" stroke-width="1.95" stroke-linejoin="round"/>
<path transform="translate(190.59,401.7) scale(0.81)" d="M1.85,-8.1 C3.7,-8.4 5.0,-9.1 5.2,-10.8 L5.2,0" fill="none" stroke="#000" stroke-width="1.95" stroke-linejoin="round"/>
<path transform="translate(198.57,401.7) scale(0.81)" d="M1.85,-8.1 C3.7,-8.4 5.0,-9.1 5.2,-10.8 L5.2,0" fill="none" stroke="#000" stroke-width="1.95" stroke-linejoin="round"/>
<text x="207" y="407.2" font-size="18.6" text-anchor="start" font-weight="normal">In-basiliximab/DOTA</text>
<text x="208.4" y="430.3" font-size="18.6" text-anchor="start" font-weight="normal">Serum clearance</text>
<g transform="translate(27.5,628.7) rotate(-90)" font-size="19.5" stroke="#000" stroke-width="0.35"><text x="-1" y="0" textLength="45.5" lengthAdjust="spacingAndGlyphs">Percent</text><text x="53.2" y="0" textLength="39.6" lengthAdjust="spacingAndGlyphs">injected</text><text x="100" y="0" textLength="25.4" lengthAdjust="spacingAndGlyphs">dose</text></g>
<text x="241.4" y="745" font-size="18.8" textLength="27.4" lengthAdjust="spacingAndGlyphs" stroke="#000" stroke-width="0.35">Time</text>
<text x="274.5" y="745" font-size="18.8" textLength="41.3" lengthAdjust="spacingAndGlyphs" stroke="#000" stroke-width="0.35">(hours)</text>
<text x="14.2" y="787.2" font-size="23.2" text-anchor="start" font-weight="bold" stroke="#000" stroke-width="0.7">C</text>
<path transform="translate(182.6,777.8) scale(0.81)" d="M1.85,-8.1 C3.7,-8.4 5.0,-9.1 5.2,-10.8 L5.2,0" fill="none" stroke="#000" stroke-width="1.95" stroke-linejoin="round"/>
<path transform="translate(190.59,777.8) scale(0.81)" d="M1.85,-8.1 C3.7,-8.4 5.0,-9.1 5.2,-10.8 L5.2,0" fill="none" stroke="#000" stroke-width="1.95" stroke-linejoin="round"/>
<path transform="translate(198.57,777.8) scale(0.81)" d="M1.85,-8.1 C3.7,-8.4 5.0,-9.1 5.2,-10.8 L5.2,0" fill="none" stroke="#000" stroke-width="1.95" stroke-linejoin="round"/>
<text x="207" y="783.3" font-size="18.6" text-anchor="start" font-weight="normal">In-basiliximab/DOTA</text>
<text x="214.6" y="806.4" font-size="18.6" text-anchor="start" font-weight="normal">Urine clearance</text>
<g transform="translate(27.5,1003.7) rotate(-90)" font-size="19.5" stroke="#000" stroke-width="0.35"><text x="-1" y="0" textLength="45.5" lengthAdjust="spacingAndGlyphs">Percent</text><text x="53.2" y="0" textLength="39.6" lengthAdjust="spacingAndGlyphs">injected</text><text x="100" y="0" textLength="25.4" lengthAdjust="spacingAndGlyphs">dose</text></g>
<text x="241.4" y="1118.8" font-size="18.8" textLength="27.4" lengthAdjust="spacingAndGlyphs" stroke="#000" stroke-width="0.35">Time</text>
<text x="274.5" y="1118.8" font-size="18.8" textLength="41.3" lengthAdjust="spacingAndGlyphs" stroke="#000" stroke-width="0.35">(hours)</text>
<rect x="1.25" y="1.25" width="517.5" height="1134.5" fill="none" stroke="#000" stroke-width="2.5"/>
</svg>
</body></html>
